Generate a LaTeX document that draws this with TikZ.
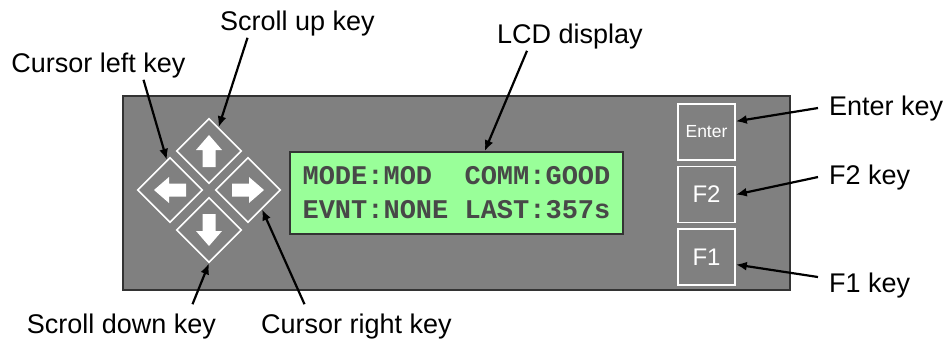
\documentclass[tikz,border=0pt]{standalone}
\usepackage{fontspec}
\setmainfont{Liberation Sans}
\newfontfamily\lcdfont{Liberation Mono}
\usetikzlibrary{positioning,shapes.geometric,arrows.meta}

\definecolor{panelgray}{RGB}{128,128,128}
\definecolor{paneledge}{RGB}{51,51,51}
\definecolor{lcdgreen}{RGB}{153,255,153}
\definecolor{lcdtext}{RGB}{72,72,72}

\tikzset{
  callout/.style={draw=black, line width=2.2pt, -{Latex[length=11pt,width=9pt]}},
  lbl/.style={font=\fontsize{27}{32}\selectfont, inner sep=2pt, anchor=base},
  navkey/.style={diamond, draw=white, line width=1.6pt, minimum width=65pt, minimum height=65pt, inner sep=0pt},
  fkey/.style={rectangle, draw=white, line width=1.6pt, minimum width=57pt, minimum height=56pt, inner sep=0pt, text=white, font=\fontsize{24}{28}\selectfont},
  keyarrow/.pic={\fill[white] (-16,-6.5) -- (1,-6.5) -- (1,-13) -- (16,0) -- (1,13) -- (1,6.5) -- (-16,6.5) -- cycle;}
}

\begin{document}
\begin{tikzpicture}[x=1pt,y=-1pt]
\useasboundingbox (0,0) rectangle (948,343);
% front panel and display
\node (panel) [draw=paneledge, fill=panelgray, line width=2pt, minimum width=667pt, minimum height=194pt, inner sep=0pt] at (456.5,193) {};
\node (lcd) [draw=black!80, fill=lcdgreen, line width=1.4pt, minimum width=333pt, minimum height=82pt, text=lcdtext, align=left, font=\lcdfont\bfseries\fontsize{27}{34}\selectfont] at (panel.center) {MODE:MOD\ \ COMM:GOOD\\EVNT:NONE LAST:357s};

% cursor keys
\node (ukey) [navkey] at (209,151) {};
\node (lkey) [navkey] at (170,190) {};
\node (rkey) [navkey] at (248,190) {};
\node (dkey) [navkey] at (209,230) {};
\pic[rotate=90] at (ukey) {keyarrow};
\pic[rotate=180] at (lkey) {keyarrow};
\pic at (rkey) {keyarrow};
\pic[rotate=-90] at (dkey) {keyarrow};

% function keys
\node (ent) [fkey, font=\fontsize{17.5}{20}\selectfont] at (706.5,132) {Enter};
\node (ftwo) [fkey, below=5pt of ent] {F2};
\node (fone) [fkey, below=5pt of ftwo] {F1};

% labels
\node (clk) [lbl] at (98.5,72) {Cursor left key};
\node (suk) [lbl] at (297.5,30) {Scroll up key};
\node (lcdlbl) [lbl] at (570,43) {LCD display};
\node (entlbl) [lbl, anchor=base west] at (827,115) {Enter key};
\node (ftwolbl) [lbl, anchor=base west] at (827,184) {F2 key};
\node (fonelbl) [lbl, anchor=base west] at (827,292) {F1 key};
\node (sdk) [lbl] at (121.5,333) {Scroll down key};
\node (crk) [lbl] at (356.5,333) {Cursor right key};

\draw[callout] ([xshift=45pt]clk.south) -- (lkey.96);
\draw[callout] ([xshift=-50pt]suk.south) -- (ukey.68);
\draw[callout] ([xshift=-43pt]lcdlbl.south) -- (lcd.56);
\draw[callout] ([xshift=-9pt]entlbl.west) -- (ent.20);
\draw[callout] ([xshift=-9pt]ftwolbl.west) -- (ftwo.east);
\draw[callout] ([xshift=-9pt,yshift=8pt]fonelbl.west) -- (fone.-14);
\draw[callout] ([xshift=71pt,yshift=7pt]sdk.north) -- (dkey.south);
\draw[callout] ([xshift=-52pt,yshift=7pt]crk.north) -- (rkey.-54);
\end{tikzpicture}
\end{document}
